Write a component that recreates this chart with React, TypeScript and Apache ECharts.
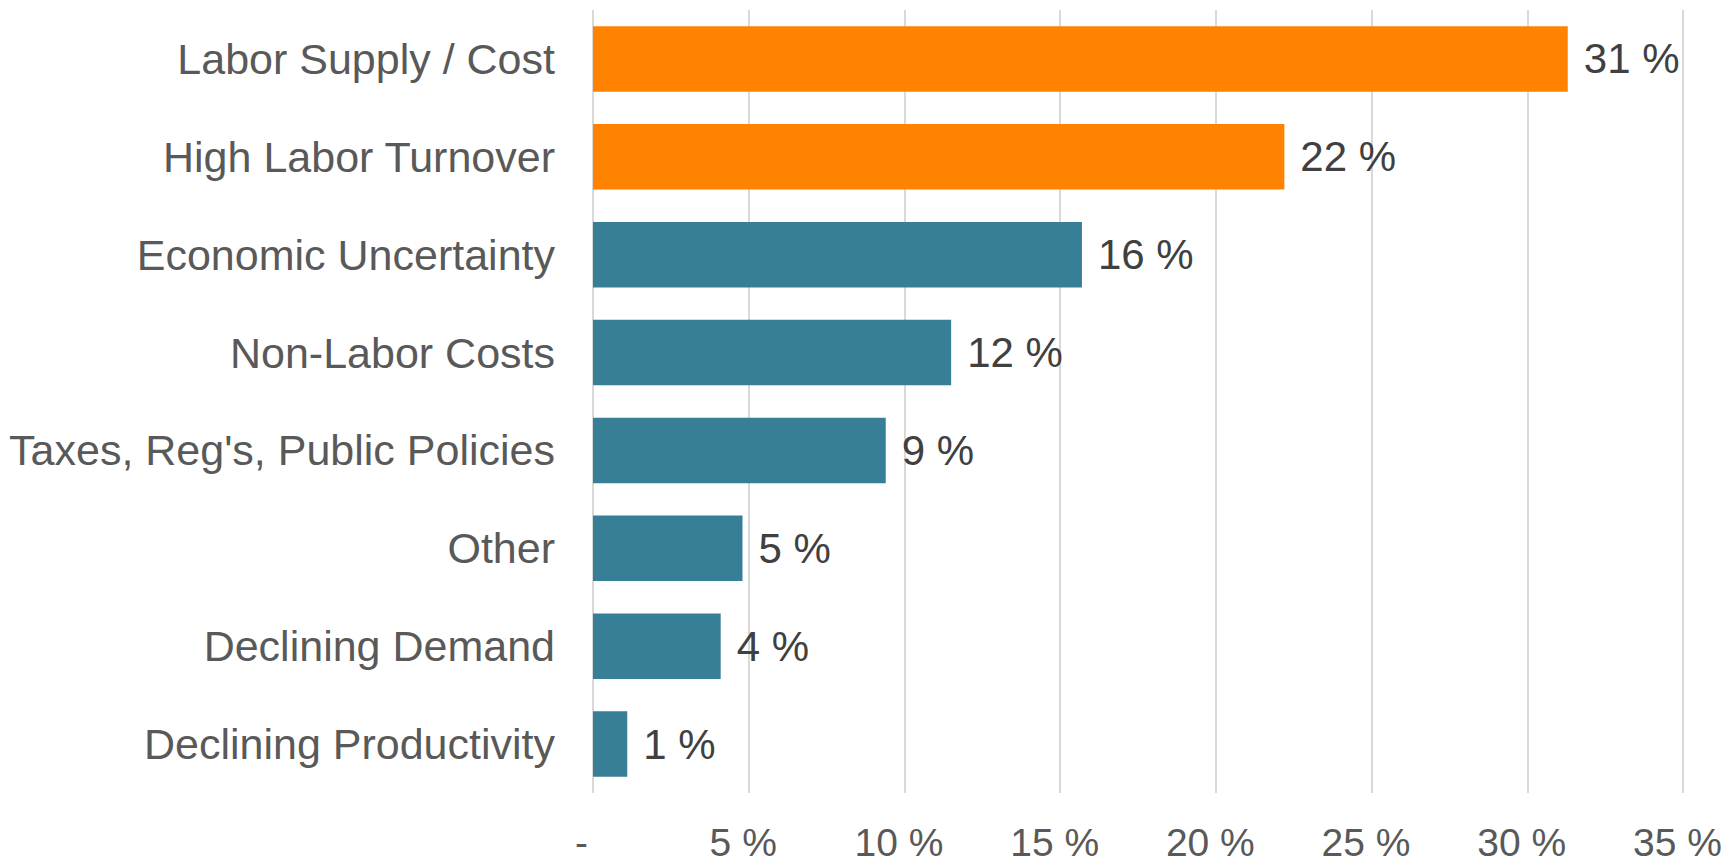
import React, { useEffect, useRef } from "react";
import * as echarts from "echarts";

const categories = [
  "Labor Supply / Cost",
  "High Labor Turnover",
  "Economic Uncertainty",
  "Non-Labor Costs",
  "Taxes, Reg's, Public Policies",
  "Other",
  "Declining Demand",
  "Declining Productivity",
];
const values = [31.3, 22.2, 15.7, 11.5, 9.4, 4.8, 4.1, 1.1];
const highlighted = [true, true, false, false, false, false, false, false];
const xTicks = [0, 5, 10, 15, 20, 25, 30, 35];

const ORANGE = "#FF8200";
const TEAL = "#377F97";

export default function App() {
  const ref = useRef<HTMLDivElement>(null);
  useEffect(() => {
    document.body.style.margin = "0";
    document.body.style.overflow = "hidden";
    const chart = echarts.init(ref.current!, null, { renderer: "svg" });
    chart.setOption({
      animation: false,
      backgroundColor: "#ffffff",
      textStyle: { fontFamily: "Liberation Sans, Arial, sans-serif" },
      grid: {
        left: 593,
        right: 44,
        top: 10,
        bottom: 69,
        containLabel: false,
        outerBoundsMode: "none",
      },
      xAxis: {
        type: "value",
        min: xTicks[0],
        max: xTicks[xTicks.length - 1],
        interval: 5,
        axisLine: { show: false },
        axisTick: { show: false },
        splitLine: { show: true, lineStyle: { color: "#D9D9D9", width: 2 } },
        axisLabel: {
          fontSize: 39,
          lineHeight: 30,
          color: "#595959",
          margin: 34,
          padding: [0, 11, 0, 0],
          formatter: (v: number) => (v === 0 ? "{z|-}" : v + " %"),
          rich: {
            z: { fontSize: 39, lineHeight: 30, color: "#595959", padding: [0, 12, 0, 0] },
          },
        },
      },
      yAxis: {
        type: "category",
        data: categories,
        inverse: true,
        axisLine: { show: false },
        axisTick: { show: false },
        axisLabel: { fontSize: 43, color: "#595959", margin: 38 },
      },
      series: [
        {
          type: "bar",
          barCategoryGap: "33%",
          data: values.map((v, i) => ({
            value: v,
            itemStyle: { color: highlighted[i] ? ORANGE : TEAL },
          })),
          label: {
            show: true,
            position: "right",
            distance: 16,
            fontSize: 42,
            color: "#404040",
            formatter: (p: any) => Math.round(p.value) + " %",
          },
        },
      ],
    });
    return () => chart.dispose();
  }, []);
  return <div ref={ref} style={{ width: 1727, height: 862 }} />;
}
